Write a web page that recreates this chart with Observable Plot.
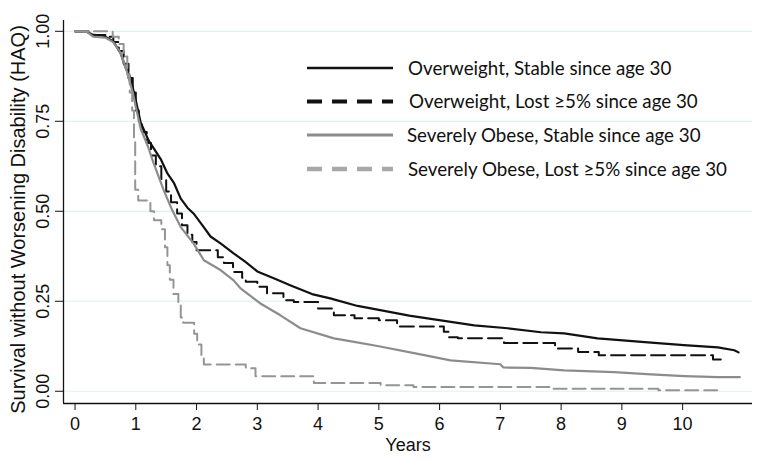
<!DOCTYPE html>
<html>
<head>
<meta charset="utf-8">
<script src="https://cdn.jsdelivr.net/npm/d3@7"></script>
<script src="https://cdn.jsdelivr.net/npm/@observablehq/plot@0.6"></script>
<style>
  html, body { margin: 0; padding: 0; background: #fff; }
  #wrap { position: relative; width: 758px; height: 467px; }
  #legend { position: absolute; left: 0; top: 0; width: 758px; height: 467px; pointer-events: none; }
</style>
</head>
<body>
<div id="wrap"></div>
<script>
// ---- data ----
const seriesNames = [
  "Overweight, Stable since age 30",
  "Overweight, Lost \u22655% since age 30",
  "Severely Obese, Stable since age 30",
  "Severely Obese, Lost \u22655% since age 30"
];
const xTicks = [0,1,2,3,4,5,6,7,8,9,10];
const yTicks = [0, 0.25, 0.5, 0.75, 1];

// Overweight, stable (solid black)
const owStableT = [0,0.2,0.3,0.47,0.63,0.75,0.83,0.91,1.0,1.08,1.21,1.41,1.52,1.63,1.74,1.85,1.95,2.1,2.23,2.4,2.61,2.8,3.0,3.3,3.55,3.9,4.2,4.65,5.0,5.5,6.02,6.57,7.12,7.67,8.05,8.6,9.43,10.02,10.58,10.85,10.92];
const owStableS = [1,0.998,0.99,0.988,0.972,0.939,0.9,0.872,0.808,0.747,0.697,0.645,0.605,0.578,0.535,0.51,0.494,0.46,0.43,0.41,0.383,0.36,0.333,0.312,0.294,0.27,0.258,0.237,0.226,0.21,0.197,0.183,0.175,0.164,0.161,0.147,0.136,0.128,0.122,0.114,0.108];

// Overweight, lost >=5% (dashed black, steps)
const owLostT = [0,0.22,0.5,0.63,0.72,0.8,0.88,0.95,1.0,1.05,1.1,1.18,1.25,1.33,1.42,1.5,1.58,1.68,1.76,1.85,1.93,2.0,2.35,2.45,2.6,2.75,2.81,3.0,3.16,3.43,3.6,4.0,4.26,4.6,5.0,5.3,6.07,6.15,6.3,7.06,7.9,8.28,8.62,10.5,10.68];
const owLostS = [1,0.99,0.985,0.97,0.945,0.91,0.87,0.83,0.78,0.745,0.72,0.69,0.655,0.625,0.59,0.555,0.525,0.494,0.461,0.435,0.415,0.392,0.372,0.356,0.331,0.315,0.304,0.29,0.272,0.253,0.248,0.23,0.211,0.203,0.197,0.18,0.165,0.15,0.147,0.134,0.119,0.109,0.1,0.088,0.088];

// Severely obese, stable (solid grey)
const soStableT = [0,0.2,0.3,0.5,0.63,0.75,0.85,0.95,1.0,1.08,1.2,1.29,1.46,1.6,1.74,1.95,2.12,2.4,2.61,2.73,3.05,3.38,3.71,4.26,4.5,5.0,5.58,6.18,7.0,7.05,7.5,8.05,8.87,9.48,10.03,10.58,10.94];
const soStableS = [1,0.998,0.985,0.982,0.97,0.94,0.89,0.83,0.79,0.73,0.68,0.635,0.558,0.503,0.456,0.411,0.364,0.336,0.308,0.285,0.244,0.211,0.175,0.147,0.14,0.125,0.106,0.086,0.075,0.066,0.065,0.058,0.053,0.047,0.042,0.039,0.039];

// Severely obese, lost >=5% (dashed grey, steps)
const soLostT = [0,0.62,0.72,0.8,0.86,0.9,0.94,0.97,0.99,1.04,1.24,1.3,1.42,1.48,1.52,1.56,1.62,1.7,1.74,1.78,1.96,2.01,2.08,2.12,2.81,2.97,3.93,5.03,5.57,7.85,9.6,10.63];
const soLostS = [1,0.985,0.965,0.93,0.88,0.83,0.78,0.7,0.56,0.53,0.5,0.475,0.45,0.4,0.35,0.31,0.27,0.245,0.205,0.19,0.16,0.13,0.1,0.074,0.064,0.042,0.023,0.017,0.012,0.007,0.003,0.003];

const toRows = (T, S) => T.map((t, i) => ({t, s: S[i]}));

const styles = [
  {stroke: "#111111", width: 2.2, dash: null, curve: "linear", lw: 2.6, ldash: null},
  {stroke: "#111111", width: 2.0, dash: "14,6", curve: "step-after", lw: 4, ldash: "15,10"},
  {stroke: "#8c8c8c", width: 2.2, dash: null, curve: "linear", lw: 2.8, ldash: null},
  {stroke: "#959595", width: 2.0, dash: "13,6", curve: "step-after", lw: 4.5, ldash: "15,10"}
];
const rows = [toRows(owStableT, owStableS), toRows(owLostT, owLostS), toRows(soStableT, soStableS), toRows(soLostT, soLostS)];

const font = "'Liberation Sans', Arial, Helvetica, sans-serif";

const plot = Plot.plot({
  width: 758,
  height: 467,
  marginLeft: 63,
  marginRight: 6,
  marginTop: 20,
  marginBottom: 64,
  style: {fontFamily: font, background: "#fff", color: "#111"},
  x: {domain: [-0.19, 11.15]},
  y: {domain: [-0.034, 1.03]},
  marks: [
    Plot.ruleY(yTicks, {stroke: "#e3eef0", strokeWidth: 1.2}),
    ...rows.map((r, i) => Plot.line(r, {
      x: "t", y: "s", stroke: styles[i].stroke, strokeWidth: styles[i].width,
      strokeDasharray: styles[i].dash, curve: styles[i].curve, strokeLinejoin: "round"
    })),
    Plot.axisX(xTicks, {tickSize: 7, tickPadding: 7, fontSize: 18, label: null, stroke: "#111", color: "#111"}),
    Plot.axisY(yTicks, {tickSize: 8, tickFormat: () => "", label: null, stroke: "#111"}),
    Plot.text(yTicks, {y: d => d, text: d => d3.format(".2f")(d), frameAnchor: "left", rotate: -90,
      dx: -20.5, textAnchor: "middle", lineAnchor: "middle", fontSize: 18, fill: "#111"}),
    Plot.text(["Survival without Worsening Disability (HAQ)"], {text: d => d, frameAnchor: "left", rotate: -90,
      dx: -45, dy: 7.5, textAnchor: "middle", lineAnchor: "middle", fontSize: 20, fill: "#111"}),
    Plot.text(["Years"], {text: d => d, frameAnchor: "bottom", dy: 42, textAnchor: "middle", lineAnchor: "middle", fontSize: 18, fill: "#111"}),
    Plot.ruleX([-0.19], {stroke: "#111", strokeWidth: 1.3}),
    Plot.ruleY([-0.034], {stroke: "#111", strokeWidth: 1.3})
  ]
});
document.getElementById("wrap").appendChild(plot);

// ---- legend overlay ----
const legendRowsY = [68, 101.5, 135, 169];
const svg = d3.select("#wrap").append("svg").attr("id", "legend").attr("width", 758).attr("height", 467);
seriesNames.forEach((name, i) => {
  const y = legendRowsY[i];
  svg.append("line").attr("x1", 307).attr("x2", 393).attr("y1", y).attr("y2", y)
    .attr("stroke", i === 3 ? "#a8a8a8" : styles[i].stroke)
    .attr("stroke-width", styles[i].lw)
    .attr("stroke-dasharray", styles[i].ldash);
  svg.append("text").attr("x", i === 1 ? 409 : (i === 2 ? 407 : 408)).attr("y", y)
    .attr("dy", "0.35em")
    .attr("font-family", "Lato, 'Open Sans', sans-serif")
    .attr("font-size", 18.75)
    .attr("fill", "#111")
    .text(name);
});
</script>
</body>
</html>
